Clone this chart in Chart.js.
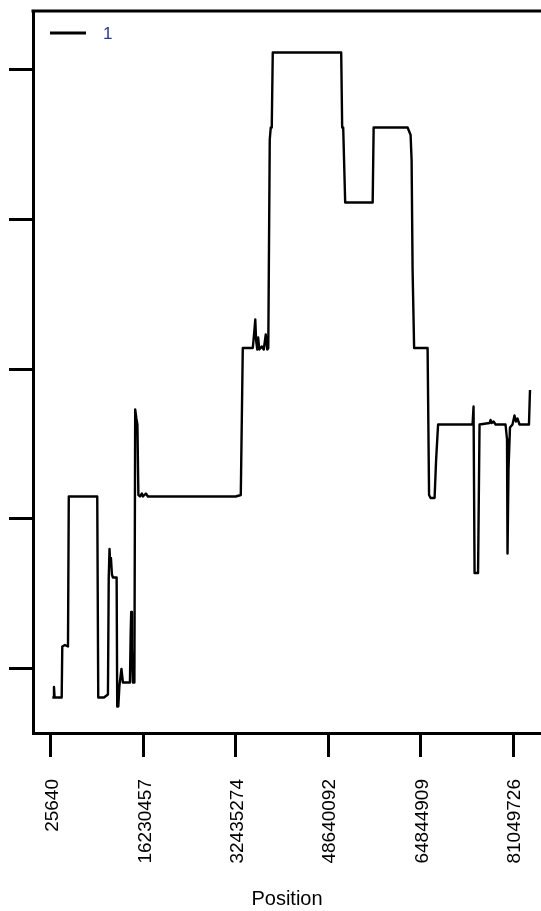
<!DOCTYPE html>
<html>
<head>
<meta charset="utf-8">
<script src="https://cdn.jsdelivr.net/npm/chart.js@4/dist/chart.umd.min.js"></script>
<style>
  html, body { margin: 0; padding: 0; background: #ffffff; }
  #wrap { width: 541px; height: 911px; }
</style>
</head>
<body>
<div id="wrap"><canvas id="c" width="541" height="911"></canvas></div>
<script>
// Genomic positions (bp) along the chromosome and the signal value at each.
const positions = [
  253000, 480000, 551000, 660000, 1900000, 2005000, 2480000, 3004000, 3144000,
  8137000, 8312000, 9310000, 10011000, 10151000, 10290000, 10410000, 10540000,
  10710000, 10887000, 11535000, 11640000, 11830000, 12030000, 12380000, 12640000,
  13870000, 14000000, 14090000, 14220000, 14390000, 14650000, 14790000, 15000000,
  15180000, 15350000, 15620000, 15970000, 16140000, 16670000, 17020000, 32435000,
  33310000, 33660000, 35413000, 35680000, 35850000, 36000000, 36200000, 36360000,
  36550000, 36990000, 37340000, 37690000, 37950000, 38130000, 38390000, 38567000,
  38740000, 38918000, 50920000, 51090000, 51270000, 51620000, 56440000, 56611000,
  62567000, 63090000, 63268000, 63440000, 63710000, 66071000, 66330000, 66600000,
  67298000, 67560000, 67910000, 73955000, 74131000, 74310000, 74920000, 75182000,
  76940000, 77110000, 77290000, 77640000, 77990000, 79740000, 80000000, 80088000,
  80260000, 80520000, 80960000, 81310000, 81570000, 81830000, 82190000, 83850000,
  84030000
];
const values = [
  0.81, 0.81, 0.88, 0.81, 0.81, 1.15, 1.16, 1.15, 2.15,
  2.15, 0.81, 0.81, 0.83, 1.61, 1.80, 1.70, 1.74,
  1.63, 1.61, 1.61, 0.75, 0.75, 0.89, 1.00, 0.91,
  0.91, 1.24, 1.38, 1.13, 0.91, 0.91, 2.73, 2.67,
  2.63, 2.16, 2.15, 2.17, 2.15, 2.17, 2.15, 2.15,
  2.16, 3.14, 3.14, 3.25, 3.33, 3.19, 3.13, 3.21,
  3.13, 3.15, 3.13, 3.23, 3.13, 3.14, 4.53, 4.61,
  4.61, 5.11, 5.11, 4.61, 4.61, 4.11, 4.11, 4.61,
  4.61, 4.56, 4.39, 3.66, 3.14, 3.14, 2.16, 2.14,
  2.14, 2.39, 2.63, 2.63, 2.75, 1.64, 1.64, 2.63,
  2.64, 2.66, 2.64, 2.65, 2.63, 2.63, 2.53, 1.77,
  2.33, 2.61, 2.63, 2.69, 2.65, 2.67, 2.63, 2.63,
  2.86
];
const seriesName = '1';
const xTickValues = [25640, 16230457, 32435274, 48640092, 64844909, 81049726];
const yTickValues = [1, 2, 3, 4, 5];
const xTitle = 'Position';

const FONT = "'Liberation Sans', Arial, sans-serif";

// Frame line along the top of the plot area.
const topFrame = {
  id: 'topFrame',
  afterDraw(chart) {
    const { ctx, chartArea } = chart;
    ctx.save();
    ctx.strokeStyle = '#000';
    ctx.lineWidth = 3;
    ctx.beginPath();
    ctx.moveTo(chartArea.left - 1.5, chartArea.top);
    ctx.lineTo(chart.width, chartArea.top);
    ctx.stroke();
    ctx.restore();
  }
};

// Small legend drawn inside the plot, top-left.
const insetLegend = {
  id: 'insetLegend',
  afterDraw(chart) {
    const { ctx, chartArea } = chart;
    const ds = chart.data.datasets[0];
    const x0 = chartArea.left + 17, y0 = chartArea.top + 22;
    ctx.save();
    ctx.strokeStyle = ds.borderColor;
    ctx.lineWidth = 3;
    ctx.beginPath();
    ctx.moveTo(x0, y0);
    ctx.lineTo(x0 + 36, y0);
    ctx.stroke();
    ctx.fillStyle = '#2a3a8c';
    ctx.font = '17px ' + FONT;
    ctx.textBaseline = 'middle';
    ctx.fillText(ds.label, x0 + 53, y0 + 1);
    ctx.restore();
  }
};

const points = positions.map((p, i) => ({ x: p, y: values[i] }));

new Chart(document.getElementById('c'), {
  type: 'line',
  data: {
    datasets: [{
      label: seriesName,
      data: points,
      borderColor: '#000000',
      borderWidth: 2.4,
      pointRadius: 0,
      tension: 0,
      fill: false,
      borderJoinStyle: 'round'
    }]
  },
  options: {
    responsive: false,
    animation: false,
    devicePixelRatio: 1,
    layout: { padding: { top: 11, right: 0, left: 0, bottom: 0 } },
    plugins: { legend: { display: false }, tooltip: { enabled: false } },
    scales: {
      x: {
        type: 'linear',
        min: -3131128,
        max: 85960254,
        afterBuildTicks: s => { s.ticks = xTickValues.map(v => ({ value: v })); },
        afterFit: s => {
          s.height = 178;
          s.paddingLeft = 0;
          s.paddingRight = 0;
        },
        grid: {
          drawOnChartArea: false, drawTicks: true, tickLength: 24,
          color: '#000', lineWidth: 3
        },
        border: { display: true, color: '#000', width: 3 },
        ticks: {
          autoSkip: false, minRotation: 90, maxRotation: 90, padding: 22,
          labelOffset: 2,
          color: '#000', font: { family: FONT, size: 19 },
          callback: v => String(v)
        },
        title: {
          display: true, text: xTitle, color: '#000',
          font: { family: FONT, size: 20 }, padding: { top: 0, bottom: 0 }
        }
      },
      y: {
        type: 'linear',
        min: 0.5733,
        max: 5.3867,
        afterBuildTicks: s => { s.ticks = yTickValues.map(v => ({ value: v })); },
        afterFit: s => {
          s.width = 33;
          s.paddingTop = 0;
          s.paddingBottom = 0;
        },
        grid: {
          drawOnChartArea: false, drawTicks: true, tickLength: 24,
          color: '#000', lineWidth: 3
        },
        border: { display: true, color: '#000', width: 3 },
        ticks: { display: false }
      }
    }
  },
  plugins: [topFrame, insetLegend]
});
</script>
</body>
</html>
